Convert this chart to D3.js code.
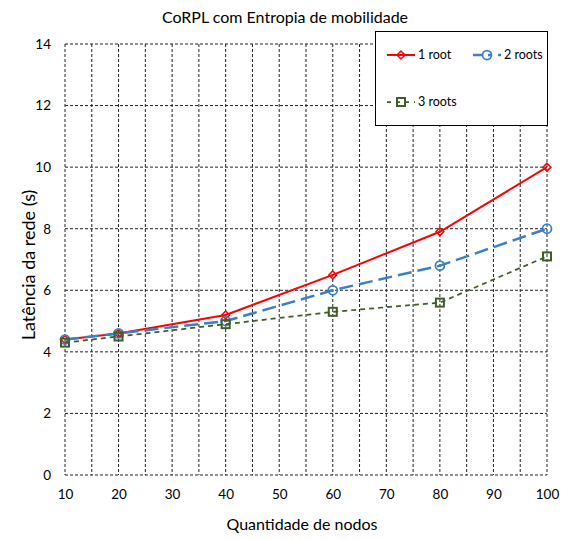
<!DOCTYPE html>
<html>
<head>
<meta charset="utf-8">
<script src="https://cdn.jsdelivr.net/npm/d3@7"></script>
<style>
  body { margin: 0; background: #fff; }
  text { font-family: Lato, "Noto Sans", sans-serif; fill: #000; }
</style>
</head>
<body>
<div id="chart"></div>
<script>
// data
var nodes = [10, 20, 40, 60, 80, 100]
var oneRoot = [4.4, 4.6, 5.2, 6.5, 7.9, 10.0]
var twoRoots = [4.4, 4.6, 5.0, 6.0, 6.8, 8.0]
var threeRoots = [4.3, 4.5, 4.9, 5.3, 5.6, 7.1]
var xTicks = [10, 20, 30, 40, 50, 60, 70, 80, 90, 100]
var yTicks = [0, 2, 4, 6, 8, 10, 12, 14]

var series = [
  { name: "1 root", values: oneRoot, color: "#ff0000", dash: null, width: 2, marker: "diamond" },
  { name: "2 roots", values: twoRoots, color: "#3a80c8", dash: "14,6", width: 2.5, marker: "circle" },
  { name: "3 roots", values: threeRoots, color: "#3f5f26", dash: "5,4", width: 1.75, marker: "square" }
]

var margin = { top: 44, right: 22, bottom: 65, left: 65 },
  width = 569 - margin.left - margin.right,
  height = 540 - margin.top - margin.bottom;

var svgRoot = d3.select("#chart")
  .append("svg")
  .attr("width", 569)
  .attr("height", 540)

var svg = svgRoot.append("g")
  .attr("transform", "translate(" + margin.left + "," + margin.top + ")");

var x = d3.scaleLinear()
  .domain([10, 100])
  .range([0, width])

var y = d3.scaleLinear()
  .domain([0, 14])
  .range([height, 0])

// dashed grid, every 5 on x and every 2 on y
var xGrid = d3.range(10, 101, 5)
svg.append("g")
  .selectAll("line")
  .data(xGrid)
  .enter()
  .append("line")
  .attr("x1", function (d) { return x(d); })
  .attr("x2", function (d) { return x(d); })
  .attr("y1", 0)
  .attr("y2", height)
  .attr("stroke", "#222")
  .attr("stroke-width", 1)
  .attr("stroke-dasharray", "3,2")

svg.append("g")
  .selectAll("line")
  .data(yTicks)
  .enter()
  .append("line")
  .attr("x1", 0)
  .attr("x2", width)
  .attr("y1", function (d) { return y(d); })
  .attr("y2", function (d) { return y(d); })
  .attr("stroke", "#222")
  .attr("stroke-width", 1)
  .attr("stroke-dasharray", "3,2")

// axes (labels only)
var xAxis = svg.append("g")
  .attr("transform", "translate(0," + height + ")")
  .call(d3.axisBottom(x).tickValues(xTicks).tickSize(0).tickPadding(14))
xAxis.select(".domain").remove()
xAxis.selectAll("text")
  .attr("font-size", "13.5")
  .style("font-family", "Lato, 'Noto Sans', sans-serif")

var yAxis = svg.append("g")
  .call(d3.axisLeft(y).tickValues(yTicks).tickSize(0).tickPadding(14))
yAxis.select(".domain").remove()
yAxis.selectAll("text")
  .attr("font-size", "13.5")
  .style("font-family", "Lato, 'Noto Sans', sans-serif")

var line = d3.line()
  .x(function (d, i) { return x(nodes[i]); })
  .y(function (d) { return y(d); })

function drawMarker(g, type, color, cx, cy) {
  if (type == "diamond") {
    g.append("path")
      .attr("d", d3.symbol().type(d3.symbolDiamond2).size(40)())
      .attr("transform", "translate(" + cx + "," + cy + ")")
      .attr("fill", "none")
      .attr("stroke", color)
      .attr("stroke-width", 1.5)
  } else if (type == "circle") {
    g.append("circle")
      .attr("cx", cx).attr("cy", cy).attr("r", 4.5)
      .attr("fill", "none")
      .attr("stroke", color)
      .attr("stroke-width", 1.75)
  } else {
    g.append("rect")
      .attr("x", cx - 4).attr("y", cy - 4)
      .attr("width", 8).attr("height", 8)
      .attr("fill", "none")
      .attr("stroke", color)
      .attr("stroke-width", 2)
  }
}

series.forEach(function (s) {
  var g = svg.append("g")
  g.append("path")
    .datum(s.values)
    .attr("d", line)
    .attr("fill", "none")
    .attr("stroke", s.color)
    .attr("stroke-width", s.width)
    .attr("stroke-dasharray", s.dash)
  s.values.forEach(function (v, i) {
    drawMarker(g, s.marker, s.color, x(nodes[i]), y(v))
  })
})

// legend
var legend = svgRoot.append("g")
legend.append("rect")
  .attr("x", 375.5)
  .attr("y", 31.5)
  .attr("width", 172)
  .attr("height", 94)
  .attr("fill", "#fff")
  .attr("stroke", "#000")
  .attr("stroke-width", 1)

var legendPos = [[387, 55], [473, 55], [387, 102]]
series.forEach(function (s, i) {
  var lx = legendPos[i][0], ly = legendPos[i][1]
  legend.append("line")
    .attr("x1", lx).attr("x2", lx + 28)
    .attr("y1", ly).attr("y2", ly)
    .attr("stroke", s.color)
    .attr("stroke-width", s.width)
    .attr("stroke-dasharray", s.dash == null ? null : (i == 1 ? "9,6,4,6" : "4,5"))
  drawMarker(legend, s.marker, s.color, lx + 14, ly)
  legend.append("text")
    .attr("x", lx + 31)
    .attr("y", ly + 4)
    .attr("font-size", "12.5")
    .text(s.name)
})

// titles
svgRoot.append("text")
  .attr("x", 285)
  .attr("y", 23)
  .attr("text-anchor", "middle")
  .attr("font-size", "16")
  .text("CoRPL com Entropia de mobilidade")

svgRoot.append("text")
  .attr("x", 302)
  .attr("y", 530)
  .attr("text-anchor", "middle")
  .attr("font-size", "16")
  .text("Quantidade de nodos")

svgRoot.append("text")
  .attr("transform", "translate(35,265) rotate(-90)")
  .attr("text-anchor", "middle")
  .attr("font-size", "18")
  .text("Latência da rede (s)")
</script>
</body>
</html>
